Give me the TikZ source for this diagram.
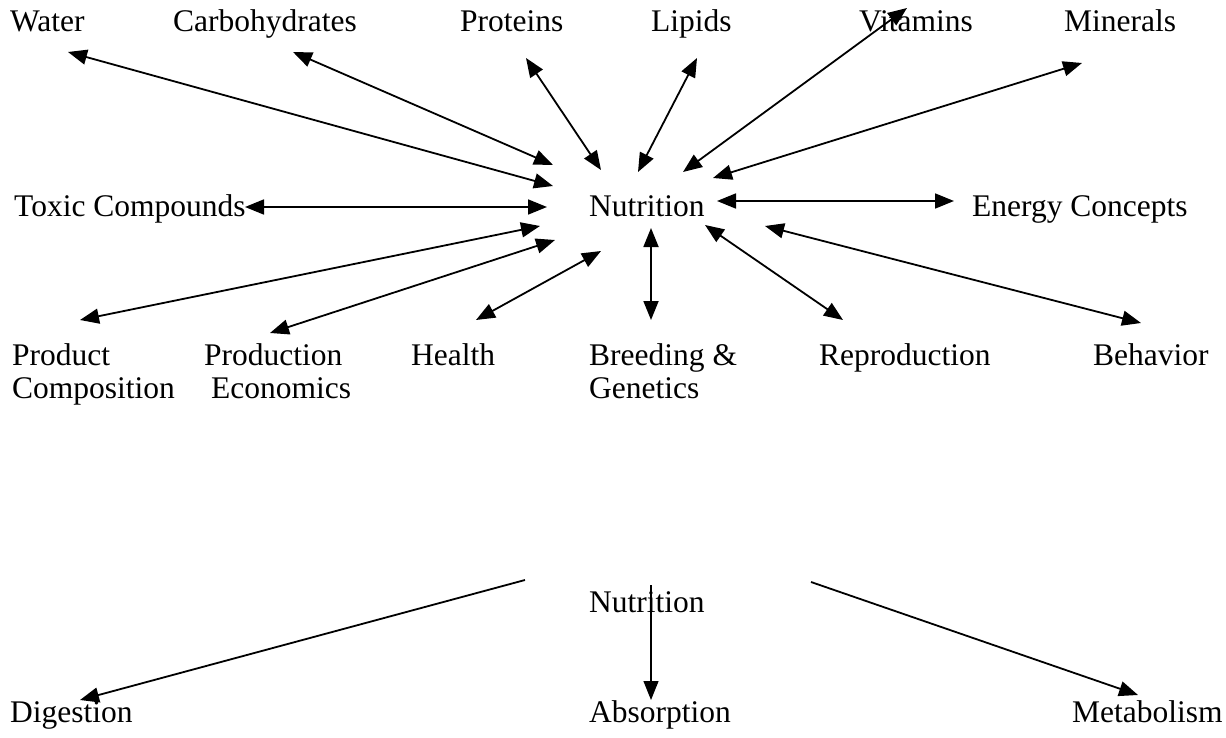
\documentclass[tikz,border=0pt]{standalone}
\usepackage{fontspec}
\setmainfont{Liberation Serif}
\usetikzlibrary{arrows.meta}
\begin{document}
\begin{tikzpicture}[x=1pt,y=-1pt,
  lbl/.style={anchor=base west,inner sep=0pt,font=\fontsize{31.5}{33}\selectfont},
  link/.style={line width=1.8pt,{Triangle[length=19pt,width=15pt]}-{Triangle[length=19pt,width=15pt]}},
  oneway/.style={line width=1.8pt,-{Triangle[length=19pt,width=15pt]}},
  thin/.style={line width=1.2pt,-{Triangle[length=19pt,width=15pt]}}]
\useasboundingbox (0,0) rectangle (1226,738);
% labels
\node[lbl] (water) at (10,32) {Water};
\node[lbl] (carb) at (173,32) {Carbohydrates};
\node[lbl] (prot) at (460,32) {Proteins};
\node[lbl] (lip) at (651,32) {Lipids};
\node[lbl] (vit) at (859,32) {Vitamins};
\node[lbl] (min) at (1064,32) {Minerals};
\node[lbl] (tox) at (14,217) {Toxic Compounds};
\node[lbl] (nut) at (589,217) {Nutrition};
\node[lbl] (energy) at (972,217) {Energy Concepts};
\node[lbl] (prodc) at (12,365) {\vtop{\hbox{Product}\hbox{Composition}}};
\node[lbl] (prode) at (204,365) {\vtop{\hbox{Production}\hbox{\hspace{7pt}Economics}}};
\node[lbl] (health) at (411,365) {Health};
\node[lbl] (breed) at (589,365) {\vtop{\hbox{Breeding \&}\hbox{Genetics}}};
\node[lbl] (repro) at (819,365) {Reproduction};
\node[lbl] (behav) at (1093,365) {Behavior};
\node[lbl] (nut2) at (589,612) {Nutrition};
\node[lbl] (dig) at (10,722) {Digestion};
\node[lbl] (abs) at (589,722) {Absorption};
\node[lbl] (met) at (1072,722) {Metabolism};
% arrow end points
\coordinate (wa) at (68,52);    \coordinate (wb) at (553,186);
\coordinate (ca) at (293,52);   \coordinate (cb) at (553,165);
\coordinate (pa) at (526,58);   \coordinate (pb) at (601,170);
\coordinate (la) at (697,58);   \coordinate (lb) at (638,172);
\coordinate (va) at (907,8);    \coordinate (vb) at (683,172);
\coordinate (ma) at (1082,63);  \coordinate (mb) at (713,178);
\coordinate (ta) at (245,207);  \coordinate (tb) at (547,207);
\coordinate (ea) at (717,201);  \coordinate (eb) at (954,201);
\coordinate (pca) at (80,320);  \coordinate (pcb) at (540,226);
\coordinate (pea) at (270,333); \coordinate (peb) at (555,240);
\coordinate (ha) at (476,320);  \coordinate (hb) at (601,251);
\coordinate (ba) at (651,228);  \coordinate (bb) at (651,320);
\coordinate (ra) at (705,225);  \coordinate (rb) at (843,320);
\coordinate (bha) at (765,226); \coordinate (bhb) at (1141,323);
\coordinate (da) at (525,580);  \coordinate (db) at (80,700);
\coordinate (aa) at (651,585);  \coordinate (ab) at (651,700);
\coordinate (mea) at (811,582); \coordinate (meb) at (1138,695);
% connectors
\draw[link] (wa) -- (wb);
\draw[link] (ca) -- (cb);
\draw[link] (pa) -- (pb);
\draw[link] (la) -- (lb);
\draw[link] (va) -- (vb);
\draw[link] (ma) -- (mb);
\draw[link] (ta) -- (tb);
\draw[link] (ea) -- (eb);
\draw[link] (pca) -- (pcb);
\draw[link] (pea) -- (peb);
\draw[link] (ha) -- (hb);
\draw[link] (ba) -- (bb);
\draw[link] (ra) -- (rb);
\draw[link] (bha) -- (bhb);
\draw[oneway] (da) -- (db);
\draw[thin] (aa) -- (ab);
\draw[oneway] (mea) -- (meb);
\end{tikzpicture}
\end{document}
